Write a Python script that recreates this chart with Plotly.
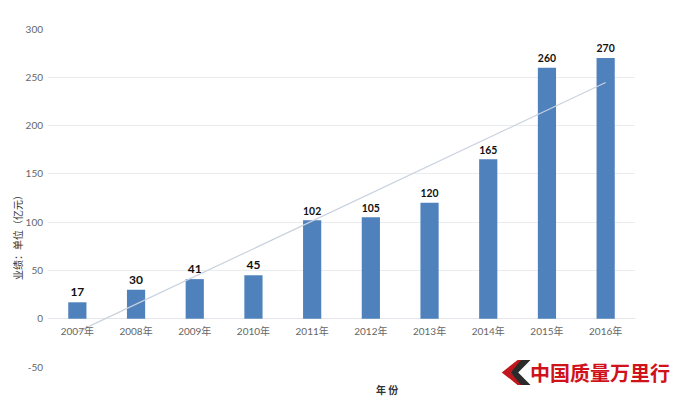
import numpy as np
import plotly.graph_objects as go

years = ["2007年", "2008年", "2009年", "2010年", "2011年", "2012年", "2013年", "2014年", "2015年", "2016年"]
values = [17, 30, 41, 45, 102, 105, 120, 165, 260, 270]
y_ticks = [-50, 0, 50, 100, 150, 200, 250, 300]

# linear trend line derived from the data
xi = np.arange(len(values))
slope, intercept = np.polyfit(xi, values, 1)
trend = (slope * xi + intercept).tolist()

FONT = "Lato, 'Noto Sans CJK SC', sans-serif"
CJK = "'Noto Sans CJK SC', sans-serif"

fig = go.Figure()
fig.add_trace(go.Scatter(
    x=years, y=trend, mode="lines",
    line=dict(color="#c9d2de", width=1.2),
    hoverinfo="skip", showlegend=False,
))
fig.add_trace(go.Bar(
    x=years, y=values,
    marker=dict(color="#4f81bd", line=dict(width=0)),
    text=[str(v) for v in values], textposition="outside",
    textfont=dict(family=FONT, size=12, color="#111111", weight="bold"),
    cliponaxis=False, showlegend=False,
))

fig.update_layout(
    width=672, height=395,
    margin=dict(l=40, r=45, t=21, b=36),
    paper_bgcolor="white", plot_bgcolor="white",
    bargap=0.69,
    font=dict(family=FONT, color="#595959"),
    xaxis=dict(
        type="category", anchor="free", position=50 / 350,
        showgrid=False, showline=False, ticks="",
        tickfont=dict(family=FONT, size=10, color="#666666"),
        ticklabelstandoff=5, automargin=False,
    ),
    yaxis=dict(
        range=[-50, 300], tickvals=y_ticks, ticktext=[str(t) for t in y_ticks],
        showgrid=True, gridcolor="#eaedf0", gridwidth=1,
        zeroline=True, zerolinecolor="#e3e6ea", zerolinewidth=1,
        showline=False, ticks="", automargin=False,
        tickfont=dict(family=FONT, size=10, color="#666666"),
        ticklabelstandoff=4,
    ),
    annotations=[
        dict(text="业绩：单位（亿元）", xref="paper", yref="paper", x=-0.053, y=0.39,
             textangle=-90, xanchor="center", yanchor="middle", showarrow=False,
             font=dict(family=CJK, size=10, color="#333333")),
        dict(text="年 份", xref="paper", yref="paper", x=0.578, y=-0.066,
             xanchor="center", yanchor="middle", showarrow=False,
             font=dict(family=CJK, size=10, color="#333333", weight="bold")),
        dict(text="中国质量万里行", xref="paper", yref="paper", x=1.063, y=-0.015,
             xanchor="right", yanchor="middle", showarrow=False,
             font=dict(family=CJK, size=20, color="#d0121b", weight="bold")),
    ],
    shapes=[
        dict(type="path", xref="paper", yref="paper",
             path="M 0.800 0.021 L 0.773 -0.016 L 0.800 -0.053 L 0.812 -0.053 L 0.788 -0.016 L 0.812 0.021 Z",
             fillcolor="#c0161c", line=dict(width=0)),
        dict(type="path", xref="paper", yref="paper",
             path="M 0.806 0.021 L 0.788 -0.016 L 0.806 -0.053 L 0.822 -0.053 L 0.801 -0.016 L 0.822 0.021 Z",
             fillcolor="#2b2b2b", line=dict(width=0)),
    ],
)

fig.write_html("out.html")
